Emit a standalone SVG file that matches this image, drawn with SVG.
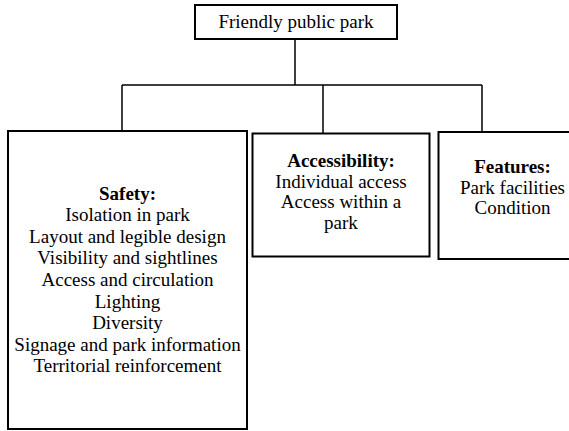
<svg xmlns="http://www.w3.org/2000/svg" width="569" height="431" viewBox="0 0 569 431">
<style>
.box{fill:#fff;stroke:#000;stroke-width:2}
.t{font-family:"Liberation Serif","Times New Roman",serif;font-size:19px;fill:#000;text-anchor:middle}
.b{font-weight:bold}
.c{fill:none;stroke:#000;stroke-width:1.5}
</style>
<rect width="569" height="431" fill="#fff"/>
<g id="connectors">
<path class="c" d="M295,40 V85 M122,85 H482 M122,85 V131 M323,85 V133 M482,85 V132"/>
</g>
<g id="root">
<rect class="box" x="195" y="5" width="202" height="34"/>
<text class="t" x="296" y="28">Friendly public park</text>
</g>
<g id="safety">
<rect class="box" x="8" y="131" width="239" height="298"/>
<text class="t" x="127.5" y="199.5"><tspan class="b">Safety:</tspan><tspan x="127.5" dy="21.6">Isolation in park</tspan><tspan x="127.5" dy="21.6">Layout and legible design</tspan><tspan x="127.5" dy="21.6">Visibility and sightlines</tspan><tspan x="127.5" dy="21.6">Access and circulation</tspan><tspan x="127.5" dy="21.6">Lighting</tspan><tspan x="127.5" dy="21.6">Diversity</tspan><tspan x="127.5" dy="21.6">Signage and park information</tspan><tspan x="127.5" dy="21.6">Territorial reinforcement</tspan></text>
</g>
<g id="accessibility">
<rect class="box" x="252.5" y="133.5" width="177" height="123"/>
<text class="t" x="341" y="167"><tspan class="b">Accessibility:</tspan><tspan x="341" dy="20.5">Individual access</tspan><tspan x="341" dy="20.5">Access within a</tspan><tspan x="341" dy="20.5">park</tspan></text>
</g>
<g id="features">
<rect class="box" x="438.5" y="132" width="150" height="127"/>
<text class="t" x="512.5" y="173"><tspan class="b">Features:</tspan><tspan x="512.5" dy="20.5">Park facilities</tspan><tspan x="512.5" dy="20.5">Condition</tspan></text>
</g>
</svg>
